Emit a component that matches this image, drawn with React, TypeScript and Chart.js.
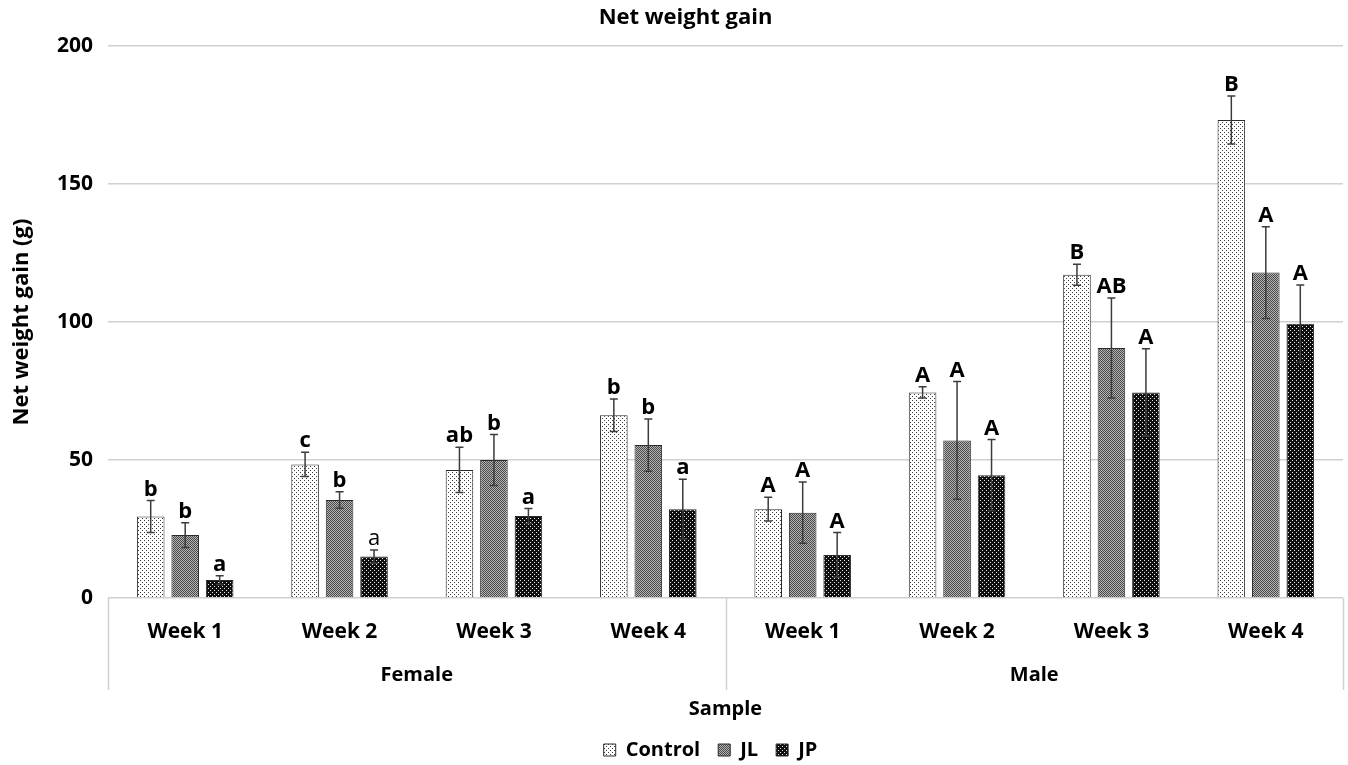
import React, { useEffect, useRef } from 'react';
import { Chart, registerables } from 'chart.js';

Chart.register(...registerables);

const weekLabels = ['Week 1', 'Week 2', 'Week 3', 'Week 4', 'Week 1', 'Week 2', 'Week 3', 'Week 4'];
const groupLabels = ['Female', 'Male'];
const groupSizes = [4, 4];
const seriesNames = ['Control', 'JL', 'JP'];

const controlValues = [29.5, 48.4, 46.4, 66.2, 32.2, 74.5, 117.1, 173.2];
const jlValues = [22.8, 35.5, 50.0, 55.4, 30.9, 57.1, 90.6, 117.9];
const jpValues = [6.5, 15.0, 29.7, 32.2, 15.6, 44.5, 74.5, 99.4];

const controlSD = [5.8, 4.4, 8.2, 5.9, 4.3, 2.0, 3.8, 8.7];
const jlSD = [4.5, 3.0, 9.2, 9.5, 11.1, 21.3, 18.1, 16.6];
const jpSD = [1.6, 2.4, 2.7, 10.8, 8.1, 12.9, 15.8, 14.0];

const controlLetters = ['b', 'c', 'ab', 'b', 'A', 'A', 'B', 'B'];
const jlLetters = ['b', 'b', 'b', 'b', 'A', 'A', 'AB', 'A'];
const jpLetters = ['a', 'a', 'a', 'a', 'A', 'A', 'A', 'A'];
const jpLetterBold = [true, false, true, true, true, true, true, true];

const yTicks = [0, 50, 100, 150, 200];

const FONT = '"Open Sans", Lato, "Liberation Sans", sans-serif';

function makePattern(bg: string, fg: string, size: number, dots: [number, number][]) {
  const c = document.createElement('canvas');
  c.width = size;
  c.height = size;
  const ctx = c.getContext('2d')!;
  ctx.fillStyle = bg;
  ctx.fillRect(0, 0, size, size);
  ctx.fillStyle = fg;
  dots.forEach(([x, y]) => ctx.fillRect(x, y, 1, 1));
  return ctx.createPattern(c, 'repeat')!;
}

export default function App() {
  const canvasRef = useRef<HTMLCanvasElement | null>(null);

  useEffect(() => {
    const canvas = canvasRef.current;
    if (!canvas) return;

    const controlPattern = makePattern('#ffffff', '#3a3a3a', 4, [[0, 0], [2, 2]]);
    const jlPattern = makePattern('#b4b4b4', '#4a4a4a', 2, [[0, 0], [1, 1]]);
    const jpPattern = makePattern('#101010', '#e8e8e8', 4, [[0, 0], [2, 2]]);

    const sds = [controlSD, jlSD, jpSD];
    const letters = [controlLetters, jlLetters, jpLetters];
    const bolds = [controlLetters.map(() => true), jlLetters.map(() => true), jpLetterBold];

    const errorPlugin = {
      id: 'errorBarsAndLetters',
      afterDatasetsDraw(chart: any) {
        const ctx = chart.ctx;
        const y = chart.scales.y;
        chart.data.datasets.forEach((ds: any, di: number) => {
          const meta = chart.getDatasetMeta(di);
          meta.data.forEach((bar: any, i: number) => {
            const v = ds.data[i];
            const sd = sds[di][i];
            const top = y.getPixelForValue(v + sd);
            const bot = y.getPixelForValue(v - sd);
            const x = bar.x;
            ctx.save();
            ctx.strokeStyle = '#3c3c3c';
            ctx.lineWidth = 1.5;
            ctx.beginPath();
            ctx.moveTo(x, top);
            ctx.lineTo(x, bot);
            ctx.moveTo(x - 4, top);
            ctx.lineTo(x + 4, top);
            ctx.moveTo(x - 4, bot);
            ctx.lineTo(x + 4, bot);
            ctx.stroke();
            ctx.fillStyle = '#000';
            ctx.font = `${bolds[di][i] ? 'bold ' : ''}22px ${FONT}`;
            ctx.textAlign = 'center';
            ctx.textBaseline = 'alphabetic';
            ctx.fillText(letters[di][i], x, top - 5);
            ctx.restore();
          });
        });
      },
    };

    const groupPlugin = {
      id: 'groupAxis',
      afterLayout(chart: any) {
        if (chart.legend) {
          chart.legend.left += 36;
          chart.legend.right += 36;
        }
        if (chart.titleBlock) {
          chart.titleBlock.left += 11;
          chart.titleBlock.right += 11;
        }
      },
      afterDraw(chart: any) {
        const ctx = chart.ctx;
        const x = chart.scales.x;
        const area = chart.chartArea;
        const half = (x.getPixelForValue(1) - x.getPixelForValue(0)) / 2;
        ctx.save();
        ctx.strokeStyle = '#d0d0d0';
        ctx.lineWidth = 1.5;
        let start = 0;
        const bounds: number[] = [area.left];
        groupLabels.forEach((g, gi) => {
          const end = start + groupSizes[gi] - 1;
          const left = x.getPixelForValue(start) - half;
          const right = x.getPixelForValue(end) + half;
          if (gi > 0) bounds.push(left);
          ctx.fillStyle = '#000';
          ctx.font = `bold 20px ${FONT}`;
          ctx.textAlign = 'center';
          ctx.textBaseline = 'middle';
          ctx.fillText(g, (left + right) / 2, area.bottom + 77);
          start = end + 1;
        });
        bounds.push(area.right);
        bounds.forEach((bx) => {
          ctx.beginPath();
          ctx.moveTo(Math.round(bx) + 0.5, area.bottom);
          ctx.lineTo(Math.round(bx) + 0.5, area.bottom + 92);
          ctx.stroke();
        });
        ctx.restore();
      },
    };

    const chart = new Chart(canvas, {
      type: 'bar',
      data: {
        labels: weekLabels,
        datasets: [
          { label: seriesNames[0], data: controlValues, backgroundColor: controlPattern, borderColor: '#2a2a2a', borderWidth: 1 },
          { label: seriesNames[1], data: jlValues, backgroundColor: jlPattern, borderColor: '#2a2a2a', borderWidth: 1 },
          { label: seriesNames[2], data: jpValues, backgroundColor: jpPattern, borderColor: '#2a2a2a', borderWidth: 1 },
        ],
      },
      options: {
        animation: false,
        responsive: false,
        maintainAspectRatio: false,
        layout: { padding: { top: 5, left: 6, right: 5, bottom: -5 } },
        datasets: { bar: { categoryPercentage: 0.67, barPercentage: 0.8 } },
        plugins: {
          title: {
            display: true,
            text: 'Net weight gain',
            color: '#000',
            font: { family: FONT, size: 22, weight: 'bold' },
            padding: { top: 0, bottom: 14.6 },
          },
          legend: {
            position: 'bottom',
            labels: {
              color: '#000',
              font: { family: FONT, size: 20, weight: 'bold' },
              boxWidth: 12,
              boxHeight: 12,
              padding: 18,
            },
          },
          tooltip: { enabled: false },
        },
        scales: {
          x: {
            grid: { display: false },
            border: { display: false },
            ticks: { color: '#000', font: { family: FONT, size: 21, weight: 'bold' }, padding: 13, maxRotation: 0 },
            title: {
              display: true,
              text: 'Sample',
              color: '#000',
              font: { family: FONT, size: 20, weight: 'bold' },
              padding: { top: 0, bottom: 1 },
            },
            afterFit: (s: any) => { s.height = 124; },
          },
          y: {
            min: 0,
            max: 200,
            afterBuildTicks: (s: any) => { s.ticks = yTicks.map((v) => ({ value: v })); },
            grid: { color: '#d0d0d0', lineWidth: 1.5, drawTicks: false },
            border: { display: false },
            ticks: { color: '#000', font: { family: FONT, size: 21, weight: 'bold' }, padding: 15 },
            title: {
              display: true,
              text: 'Net weight gain (g)',
              color: '#000',
              font: { family: FONT, size: 22, weight: 'bold' },
              padding: { top: 3, bottom: 0 },
            },
            afterFit: (s: any) => { s.width = 102; },
          },
        },
      } as any,
      plugins: [errorPlugin, groupPlugin],
    });

    return () => chart.destroy();
  }, []);

  return (
    <div style={{ position: 'fixed', left: 0, top: 0, width: 1348, height: 765, background: '#fff' }}>
      <canvas ref={canvasRef} width={1348} height={765} style={{ display: 'block' }} />
    </div>
  );
}
